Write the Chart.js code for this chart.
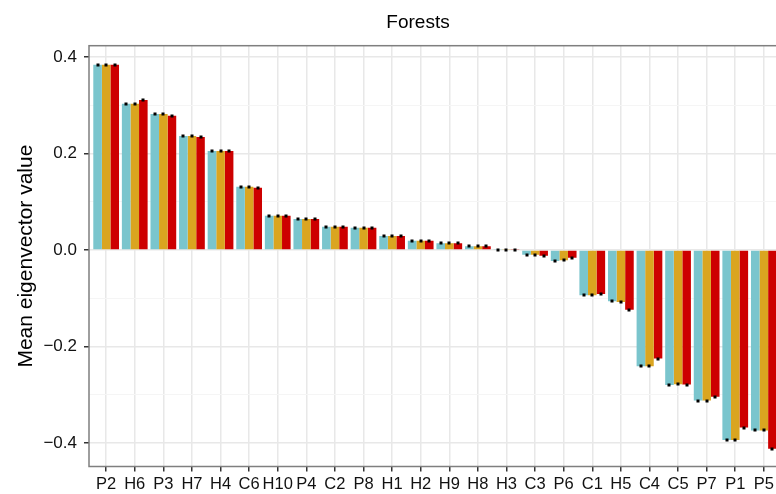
<!DOCTYPE html>
<html>
<head>
<meta charset="utf-8">
<script src="https://cdn.jsdelivr.net/npm/chart.js@4"></script>
<style>
  html, body { margin: 0; padding: 0; background: #fff; overflow: hidden; }
  #wrap { width: 836px; height: 494px; }
</style>
</head>
<body>
<div id="wrap"><canvas id="chart" width="836" height="494"></canvas></div>
<script>
// Sites, ordered by mean eigenvector value
const categories = ['P2','H6','P3','H7','H4','C6','H10','P4','C2','P8','H1','H2','H9','H8','H3','C3','P6','C1','H5','C4','C5','P7','P1','P5'];

// Mean eigenvector value per site for the three runs
const seriesA = [0.384, 0.303, 0.282, 0.236, 0.205, 0.131, 0.071, 0.064, 0.048, 0.046, 0.029, 0.019, 0.014, 0.008, 0.001, -0.010, -0.023, -0.094, -0.106, -0.241, -0.280, -0.312, -0.394, -0.374];
const seriesB = [0.384, 0.303, 0.282, 0.236, 0.205, 0.131, 0.071, 0.064, 0.048, 0.046, 0.029, 0.019, 0.014, 0.008, 0.001, -0.010, -0.021, -0.094, -0.108, -0.241, -0.278, -0.312, -0.394, -0.374];
const seriesC = [0.384, 0.311, 0.278, 0.234, 0.205, 0.129, 0.071, 0.064, 0.048, 0.046, 0.029, 0.019, 0.014, 0.008, 0.001, -0.012, -0.016, -0.091, -0.124, -0.225, -0.279, -0.304, -0.368, -0.412];

// Y axis tick positions (major and minor) and labels for the major ones
const yTicks = [-0.4, -0.3, -0.2, -0.1, 0.0, 0.1, 0.2, 0.3, 0.4];
const yTickLabels = {'-0.4': '\u22120.4', '-0.2': '\u22120.2', '0': '0.0', '0.2': '0.2', '0.4': '0.4'};

const FONT = '"Liberation Sans", Arial, Helvetica, sans-serif';
const colors = ['#7AC5CD', '#DAA520', '#CD0000'];

function toPoints(values) {
  return values.map((v, i) => ({x: i, y: v}));
}

function isMajor(v) {
  return Math.abs(Math.round(v * 10)) % 2 === 0;
}

// Small black caps marking the end of each bar
const barCaps = {
  id: 'barCaps',
  afterDatasetsDraw(chart) {
    const ctx = chart.ctx;
    ctx.save();
    ctx.fillStyle = '#000';
    chart.data.datasets.forEach((ds, di) => {
      const meta = chart.getDatasetMeta(di);
      meta.data.forEach(el => {
        ctx.fillRect(Math.round(el.x) - 1.5, Math.round(el.y) - 1.5, 3, 3);
      });
    });
    ctx.restore();
  }
};

// Grey panel border around the plotting area
const panelBorder = {
  id: 'panelBorder',
  afterDraw(chart) {
    const a = chart.chartArea;
    const ctx = chart.ctx;
    ctx.save();
    ctx.strokeStyle = '#7f7f7f';
    ctx.lineWidth = 1.5;
    ctx.strokeRect(a.left, a.top, a.right - a.left, a.bottom - a.top);
    ctx.restore();
  }
};

new Chart(document.getElementById('chart'), {
  type: 'bar',
  data: {
    datasets: [
      {label: 'Run 1', data: toPoints(seriesA), backgroundColor: colors[0]},
      {label: 'Run 2', data: toPoints(seriesB), backgroundColor: colors[1]},
      {label: 'Run 3', data: toPoints(seriesC), backgroundColor: colors[2]}
    ]
  },
  options: {
    responsive: false,
    devicePixelRatio: 1,
    animation: false,
    datasets: { bar: { categoryPercentage: 0.9, barPercentage: 1.0, borderWidth: 0 } },
    layout: { padding: 0 },
    plugins: {
      legend: { display: false },
      tooltip: { enabled: false },
      title: {
        display: true,
        text: 'Forests',
        color: '#000',
        font: { family: FONT, size: 19, weight: 'normal', lineHeight: 1.2 },
        padding: { top: 11, bottom: 11.9 }
      }
    },
    scales: {
      x: {
        type: 'linear',
        offset: false,
        min: -0.6,
        max: 23.6,
        afterBuildTicks(scale) {
          scale.ticks = categories.map((c, i) => ({value: i}));
        },
        afterFit(scale) { scale.height = 27.5; },
        ticks: {
          autoSkip: false,
          maxRotation: 0,
          padding: 3,
          color: '#111',
          font: { family: FONT, size: 16.5 },
          callback: (v) => categories[v]
        },
        grid: { offset: false, color: '#e8e8e8', lineWidth: 1.5, tickColor: '#333', tickLength: 5 },
        border: { display: false }
      },
      y: {
        type: 'linear',
        min: -0.4487,
        max: 0.4234,
        afterBuildTicks(scale) {
          scale.ticks = yTicks.map(v => ({value: v}));
        },
        afterFit(scale) { scale.width = 89; },
        ticks: {
          padding: 7,
          color: '#111',
          font: { family: FONT, size: 17 },
          callback: (v) => (isMajor(v) ? yTickLabels[String(Math.round(v * 10) / 10)] : '')
        },
        grid: {
          color: (c) => (isMajor(c.tick.value) ? '#e8e8e8' : '#f5f5f5'),
          lineWidth: (c) => (isMajor(c.tick.value) ? 1.5 : 1),
          tickColor: (c) => (isMajor(c.tick.value) ? '#333' : 'rgba(0,0,0,0)'),
          tickLength: 5
        },
        border: { display: false },
        title: {
          display: true,
          text: 'Mean eigenvector value',
          color: '#000',
          font: { family: FONT, size: 21, lineHeight: 1.2 },
          padding: { top: 14, bottom: 0 }
        }
      },
      y2: {
        type: 'linear',
        position: 'right',
        display: true,
        afterFit(scale) { scale.width = 55; },
        ticks: { display: false },
        grid: { display: false, drawTicks: false },
        border: { display: false }
      }
    }
  },
  plugins: [barCaps, panelBorder]
});
</script>
</body>
</html>
